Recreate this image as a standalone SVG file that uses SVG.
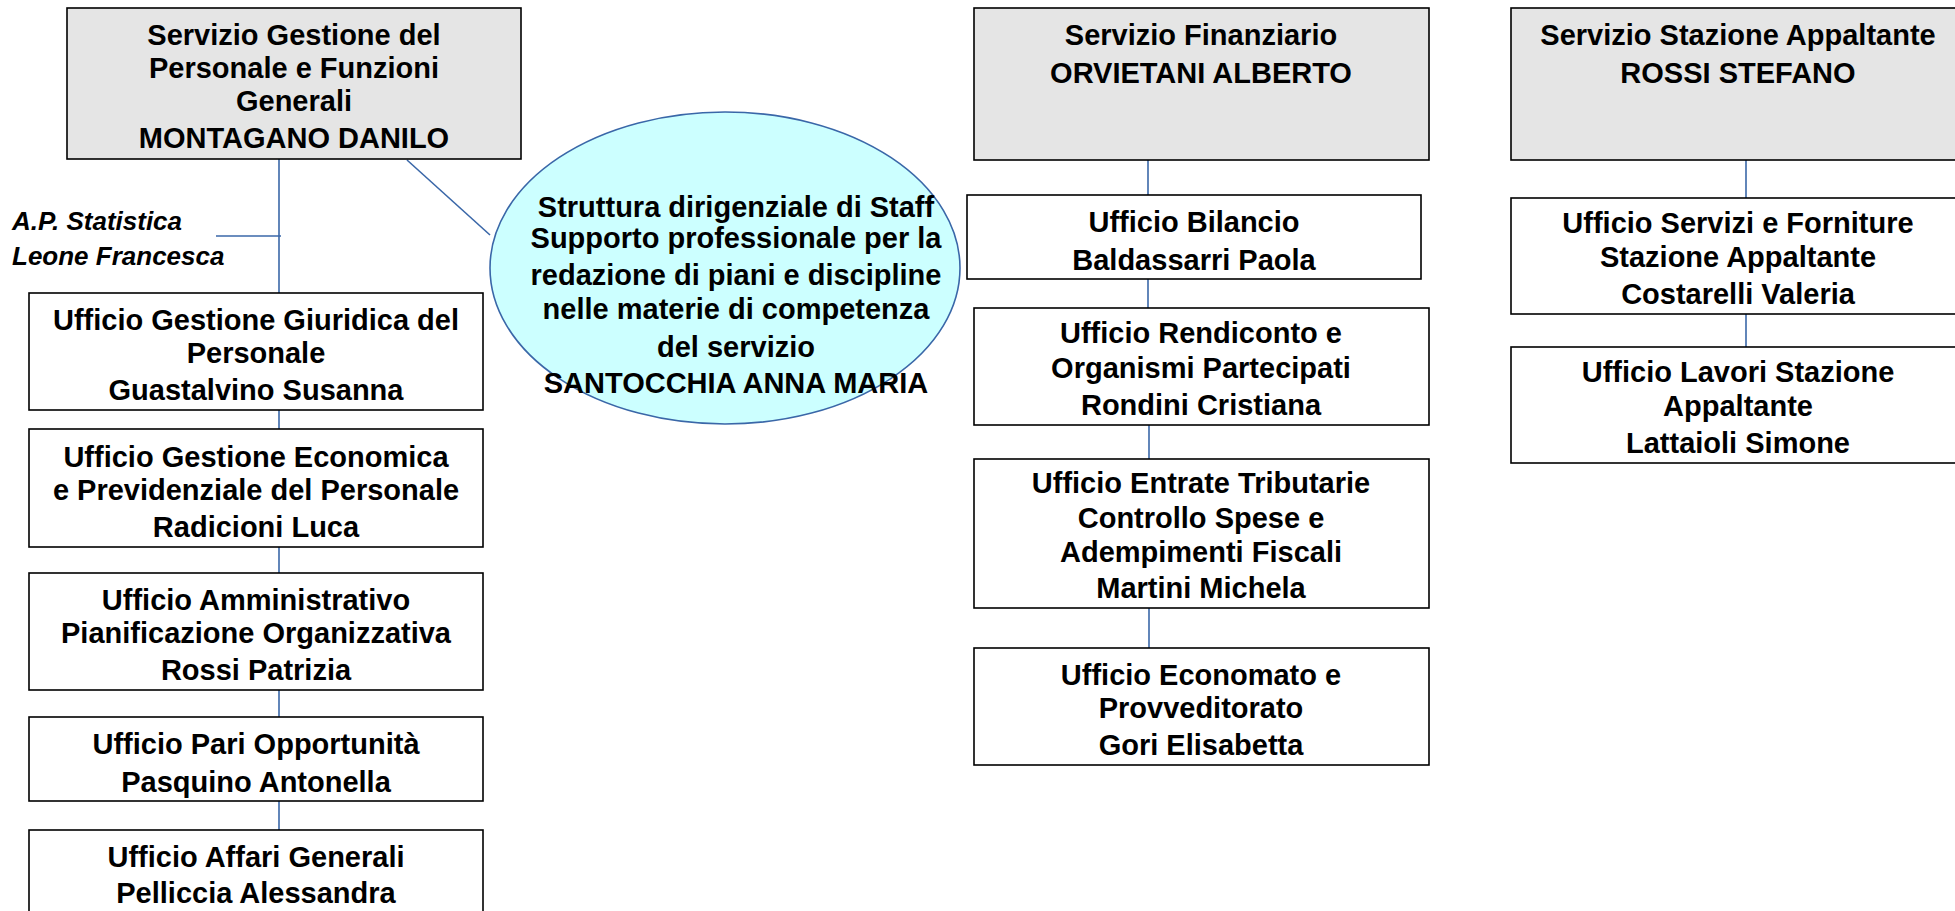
<svg xmlns="http://www.w3.org/2000/svg" width="1955" height="911" viewBox="0 0 1955 911">
<style>
.box{fill:#ffffff;stroke:#000000;stroke-width:1.6}
.head{fill:#e5e5e5;stroke:#000000;stroke-width:1.6}
.t{font-family:"Liberation Sans",Arial,sans-serif;font-weight:bold;font-size:29px;fill:#000000;text-anchor:middle}
.it{font-family:"Liberation Sans",Arial,sans-serif;font-weight:bold;font-style:italic;font-size:26px;fill:#000000}
.c{stroke:#3a67a8;stroke-width:1.6;fill:none}
</style>
<rect width="1955" height="911" fill="#ffffff"/>
<g id="connectors">
<line class="c" x1="279" y1="159" x2="279" y2="293"/>
<line class="c" x1="216" y1="236" x2="281" y2="236"/>
<line class="c" x1="407" y1="160" x2="490" y2="235"/>
<line class="c" x1="279" y1="410" x2="279" y2="429"/>
<line class="c" x1="279" y1="547" x2="279" y2="573"/>
<line class="c" x1="279" y1="690" x2="279" y2="717"/>
<line class="c" x1="279" y1="801" x2="279" y2="830"/>
<line class="c" x1="1148" y1="160" x2="1148" y2="195"/>
<line class="c" x1="1148" y1="279" x2="1148" y2="308"/>
<line class="c" x1="1149" y1="425" x2="1149" y2="459"/>
<line class="c" x1="1149" y1="608" x2="1149" y2="648"/>
<line class="c" x1="1746" y1="160" x2="1746" y2="198"/>
<line class="c" x1="1746" y1="314" x2="1746" y2="348"/>
</g>
<g id="n-gestione">
<rect class="head" x="67" y="8" width="454" height="151"/>
<text class="t" x="294" y="45">Servizio Gestione del</text>
<text class="t" x="294" y="78">Personale e Funzioni</text>
<text class="t" x="294" y="111">Generali</text>
<text class="t" x="294" y="148">MONTAGANO DANILO</text>
</g>
<g id="n-ap">
<text class="it" x="12" y="230">A.P. Statistica</text>
<text class="it" x="12" y="265">Leone Francesca</text>
</g>
<g id="n-staff">
<ellipse cx="725" cy="268" rx="235" ry="156" fill="#ccffff" stroke="#3a67a8" stroke-width="1.6"/>
<text class="t" x="736" y="217">Struttura dirigenziale di Staff</text>
<text class="t" x="736" y="248">Supporto professionale per la</text>
<text class="t" x="736" y="285">redazione di piani e discipline</text>
<text class="t" x="736" y="319">nelle materie di competenza</text>
<text class="t" x="736" y="357">del servizio</text>
<text class="t" x="736" y="393">SANTOCCHIA ANNA MARIA</text>
</g>
<g id="n-giuridica">
<rect class="box" x="29" y="293" width="454" height="117"/>
<text class="t" x="256" y="330">Ufficio Gestione Giuridica del</text>
<text class="t" x="256" y="363">Personale</text>
<text class="t" x="256" y="400">Guastalvino Susanna</text>
</g>
<g id="n-economica">
<rect class="box" x="29" y="429" width="454" height="118"/>
<text class="t" x="256" y="467">Ufficio Gestione Economica</text>
<text class="t" x="256" y="500">e Previdenziale del Personale</text>
<text class="t" x="256" y="537">Radicioni Luca</text>
</g>
<g id="n-amministrativo">
<rect class="box" x="29" y="573" width="454" height="117"/>
<text class="t" x="256" y="610">Ufficio Amministrativo</text>
<text class="t" x="256" y="643">Pianificazione Organizzativa</text>
<text class="t" x="256" y="680">Rossi Patrizia</text>
</g>
<g id="n-pari">
<rect class="box" x="29" y="717" width="454" height="84"/>
<text class="t" x="256" y="754">Ufficio Pari Opportunità</text>
<text class="t" x="256" y="792">Pasquino Antonella</text>
</g>
<g id="n-affari">
<rect class="box" x="29" y="830" width="454" height="118"/>
<text class="t" x="256" y="867">Ufficio Affari Generali</text>
<text class="t" x="256" y="903">Pelliccia Alessandra</text>
</g>
<g id="n-finanziario">
<rect class="head" x="974" y="8" width="455" height="152"/>
<text class="t" x="1201" y="45">Servizio Finanziario</text>
<text class="t" x="1201" y="83">ORVIETANI ALBERTO</text>
</g>
<g id="n-bilancio">
<rect class="box" x="967" y="195" width="454" height="84"/>
<text class="t" x="1194" y="232">Ufficio Bilancio</text>
<text class="t" x="1194" y="270">Baldassarri Paola</text>
</g>
<g id="n-rendiconto">
<rect class="box" x="974" y="308" width="455" height="117"/>
<text class="t" x="1201" y="343">Ufficio Rendiconto e</text>
<text class="t" x="1201" y="378">Organismi Partecipati</text>
<text class="t" x="1201" y="415">Rondini Cristiana</text>
</g>
<g id="n-entrate">
<rect class="box" x="974" y="459" width="455" height="149"/>
<text class="t" x="1201" y="493">Ufficio Entrate Tributarie</text>
<text class="t" x="1201" y="528">Controllo Spese e</text>
<text class="t" x="1201" y="562">Adempimenti Fiscali</text>
<text class="t" x="1201" y="598">Martini Michela</text>
</g>
<g id="n-economato">
<rect class="box" x="974" y="648" width="455" height="117"/>
<text class="t" x="1201" y="685">Ufficio Economato e</text>
<text class="t" x="1201" y="718">Provveditorato</text>
<text class="t" x="1201" y="755">Gori Elisabetta</text>
</g>
<g id="n-stazione">
<rect class="head" x="1511" y="8" width="455" height="152"/>
<text class="t" x="1738" y="45">Servizio Stazione Appaltante</text>
<text class="t" x="1738" y="83">ROSSI STEFANO</text>
</g>
<g id="n-servizi">
<rect class="box" x="1511" y="198" width="455" height="116"/>
<text class="t" x="1738" y="233">Ufficio Servizi e Forniture</text>
<text class="t" x="1738" y="267">Stazione Appaltante</text>
<text class="t" x="1738" y="304">Costarelli Valeria</text>
</g>
<g id="n-lavori">
<rect class="box" x="1511" y="347" width="455" height="116"/>
<text class="t" x="1738" y="382">Ufficio Lavori Stazione</text>
<text class="t" x="1738" y="416">Appaltante</text>
<text class="t" x="1738" y="453">Lattaioli Simone</text>
</g>
</svg>
